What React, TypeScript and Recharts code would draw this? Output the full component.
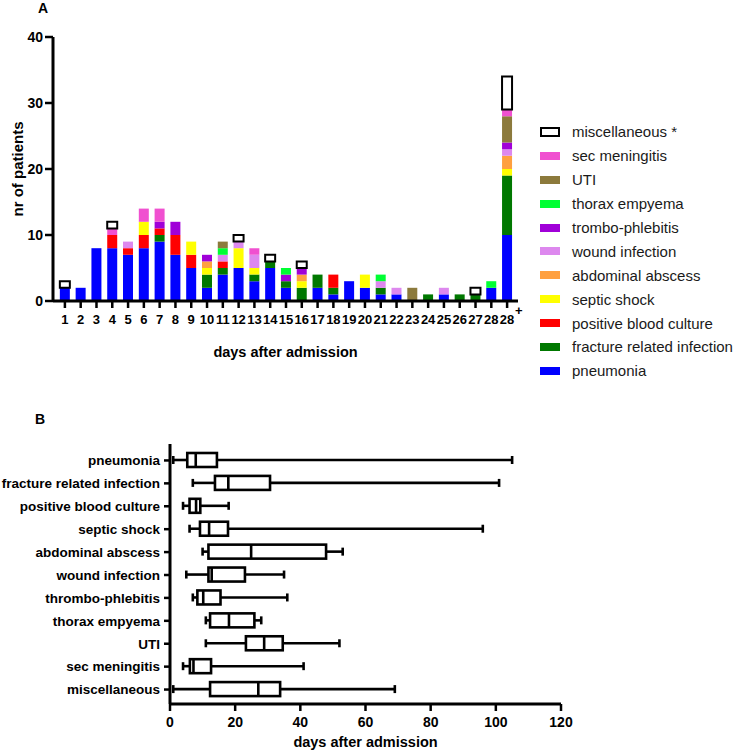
import React from "react";
import { BarChart, Bar, XAxis, YAxis, ComposedChart, Label } from "recharts";

const FONT = "Arial, 'Liberation Sans', Helvetica, sans-serif";

// ---- panel A: infections per day after admission ----
const days = [
  "1", "2", "3", "4", "5", "6", "7", "8", "9", "10", "11", "12", "13", "14", "15",
  "16", "17", "18", "19", "20", "21", "22", "23", "24", "25", "26", "27", "28", "28+",
];

const pneumonia = [2, 2, 8, 8, 7, 8, 9, 7, 5, 2, 4, 5, 3, 5, 2, 0, 2, 1, 3, 2, 1, 1, 0, 0, 1, 0, 0, 2, 10];
const fractureRelated = [0, 0, 0, 0, 0, 0, 1, 0, 0, 2, 1, 0, 1, 1, 1, 2, 2, 1, 0, 0, 1, 0, 0, 1, 0, 1, 1, 0, 9];
const bloodCulture = [0, 0, 0, 2, 1, 2, 1, 3, 2, 0, 1, 0, 0, 0, 0, 0, 0, 2, 0, 0, 0, 0, 0, 0, 0, 0, 0, 0, 0];
const septicShock = [0, 0, 0, 0, 0, 2, 0, 0, 2, 1, 0, 3, 1, 0, 0, 1, 0, 0, 0, 2, 0, 0, 0, 0, 0, 0, 0, 0, 1];
const abdominalAbscess = [0, 0, 0, 0, 0, 0, 0, 0, 0, 1, 0, 0, 0, 0, 0, 1, 0, 0, 0, 0, 0, 0, 0, 0, 0, 0, 0, 0, 2];
const woundInfection = [0, 0, 0, 0, 1, 0, 0, 0, 0, 0, 1, 1, 2, 0, 0, 0, 0, 0, 0, 0, 1, 1, 0, 0, 1, 0, 0, 0, 1];
const tromboPhlebitis = [0, 0, 0, 0, 0, 0, 1, 2, 0, 1, 0, 0, 0, 0, 1, 1, 0, 0, 0, 0, 0, 0, 0, 0, 0, 0, 0, 0, 1];
const thoraxEmpyema = [0, 0, 0, 0, 0, 0, 0, 0, 0, 0, 1, 0, 0, 0, 1, 0, 0, 0, 0, 0, 1, 0, 0, 0, 0, 0, 0, 1, 0];
const uti = [0, 0, 0, 0, 0, 0, 0, 0, 0, 0, 1, 0, 0, 0, 0, 0, 0, 0, 0, 0, 0, 0, 2, 0, 0, 0, 0, 0, 4];
const secMeningitis = [0, 0, 0, 1, 0, 2, 2, 0, 0, 0, 0, 0, 1, 0, 0, 0, 0, 0, 0, 0, 0, 0, 0, 0, 0, 0, 0, 0, 1];
const miscellaneous = [1, 0, 0, 1, 0, 0, 0, 0, 0, 0, 0, 1, 0, 1, 0, 1, 0, 0, 0, 0, 0, 0, 0, 0, 0, 0, 1, 0, 5];

const yTicksA = [0, 10, 20, 30, 40];

// stacking order, bottom to top
const series = [
  { key: "pneumonia", name: "pneumonia", color: "#0000ff", values: pneumonia },
  { key: "fracture", name: "fracture related infection", color: "#007800", values: fractureRelated },
  { key: "blood", name: "positive blood culture", color: "#ff0000", values: bloodCulture },
  { key: "septic", name: "septic shock", color: "#ffff00", values: septicShock },
  { key: "abdominal", name: "abdominal abscess", color: "#ffa040", values: abdominalAbscess },
  { key: "wound", name: "wound infection", color: "#dd88ee", values: woundInfection },
  { key: "trombo", name: "trombo-phlebitis", color: "#a000d8", values: tromboPhlebitis },
  { key: "thorax", name: "thorax empyema", color: "#00ff33", values: thoraxEmpyema },
  { key: "uti", name: "UTI", color: "#8c7a3c", values: uti },
  { key: "meningitis", name: "sec meningitis", color: "#f050d0", values: secMeningitis },
  { key: "misc", name: "miscellaneous *", color: "#ffffff", values: miscellaneous },
];

const barData = days.map((day, i) => {
  const row: Record<string, any> = { day };
  series.forEach((s) => (row[s.key] = s.values[i]));
  return row;
});

// ---- panel B: box plots of onset day ----
const boxLabels = [
  "pneumonia", "fracture related infection", "positive blood culture", "septic shock",
  "abdominal abscess", "wound infection", "thrombo-phlebitis", "thorax empyema",
  "UTI", "sec meningitis", "miscellaneous",
];
const boxMin = [1, 7, 4, 6, 10, 5, 7, 11, 11, 4, 1];
const boxQ1 = [5.3, 13.8, 6, 9.2, 11.8, 11.8, 8.4, 12.3, 23.3, 6.1, 12.3];
const boxMedian = [7.9, 17.9, 8, 12, 24.9, 12.8, 10.2, 18.1, 28.9, 7.2, 27.1];
const boxQ3 = [14.4, 30.7, 9.3, 17.8, 47.9, 23, 15.5, 25.9, 34.6, 12.6, 33.8];
const boxMax = [105, 101, 18, 96, 53, 35, 36, 28, 52, 41, 69];
const xTicksB = [0, 20, 40, 60, 80, 100, 120];

const boxData = boxLabels.map((name, i) => ({
  name,
  min: boxMin[i],
  q1: boxQ1[i],
  median: boxMedian[i],
  q3: boxQ3[i],
  max: boxMax[i],
  range: [boxMin[i], boxMax[i]],
}));

const tickFont = { fontFamily: FONT, fontWeight: 700, fill: "#000" };

function DayTick(props: any) {
  const { x, y, payload } = props;
  const v: string = payload.value;
  if (v.endsWith("+")) {
    return (
      <g>
        <text x={x} y={y} dy={14} textAnchor="middle" fontSize={13} {...tickFont}>
          {v.slice(0, -1)}
        </text>
        <text x={x + 8} y={y} dy={5} textAnchor="start" fontSize={13} {...tickFont}>
          +
        </text>
      </g>
    );
  }
  return (
    <text x={x} y={y} dy={14} textAnchor="middle" fontSize={13} {...tickFont}>
      {v}
    </text>
  );
}

function BoxShape(props: any) {
  const { x, y, width, height, payload } = props;
  if (!payload) return null;
  const span = payload.max - payload.min;
  const px = (v: number) => x + ((v - payload.min) / span) * width;
  const cy = y + height / 2;
  const sw = 2.6;
  return (
    <g stroke="#000" strokeWidth={sw} fill="none">
      <line x1={px(payload.min)} x2={px(payload.q1)} y1={cy} y2={cy} />
      <line x1={px(payload.q3)} x2={px(payload.max)} y1={cy} y2={cy} />
      <line x1={px(payload.min)} x2={px(payload.min)} y1={cy - 4} y2={cy + 4} />
      <line x1={px(payload.max)} x2={px(payload.max)} y1={cy - 4} y2={cy + 4} />
      <rect x={px(payload.q1)} y={y} width={px(payload.q3) - px(payload.q1)} height={height} fill="#fff" />
      <line x1={px(payload.median)} x2={px(payload.median)} y1={y} y2={y + height} />
    </g>
  );
}

export default function App() {
  const legendItems = [...series].reverse();
  return (
    <div style={{ position: "relative", width: 735, height: 753, background: "#fff", fontFamily: FONT }}>
      <style>{`body{margin:0}`}</style>

      <div style={{ position: "absolute", left: 38, top: 0, fontSize: 14, fontWeight: 700 }}>A</div>
      <div style={{ position: "absolute", left: 35, top: 411, fontSize: 14, fontWeight: 700 }}>B</div>

      <div style={{ position: "absolute", left: 0, top: 0 }}>
        <BarChart
          width={735}
          height={370}
          data={barData}
          margin={{ top: 37, right: 217, bottom: 19, left: 0 }}
          barCategoryGap="18%"
        >
          <XAxis
            dataKey="day"
            interval={0}
            height={50}
            padding={{ left: 4, right: 3 }}
            axisLine={{ stroke: "#000", strokeWidth: 3 }}
            tickLine={{ stroke: "#000", strokeWidth: 2.5 }}
            tickSize={7}
            tick={<DayTick />}
          >
            <Label
              content={(p: any) => {
                const vb = p.viewBox;
                return (
                  <text x={vb.x + vb.width / 2} y={vb.y + 56} textAnchor="middle" fontSize={14.5} {...tickFont}>
                    days after admission
                  </text>
                );
              }}
            />
          </XAxis>
          <YAxis
            width={53}
            domain={[0, 40]}
            ticks={yTicksA}
            interval={0}
            axisLine={{ stroke: "#000", strokeWidth: 3 }}
            tickLine={{ stroke: "#000", strokeWidth: 2.5 }}
            tickSize={8}
            tickMargin={2}
            tick={{ fontSize: 14, ...tickFont }}
          >
            <Label
              content={(p: any) => {
                const vb = p.viewBox;
                const cy = vb.y + vb.height / 2;
                return (
                  <text
                    x={17}
                    y={cy}
                    transform={`rotate(-90 17 ${cy})`}
                    textAnchor="middle"
                    dominantBaseline="central"
                    fontSize={15}
                    {...tickFont}
                  >
                    nr of patients
                  </text>
                );
              }}
            />
          </YAxis>
          {series.map((s) => (
            <Bar
              key={s.key}
              dataKey={s.key}
              name={s.name}
              stackId="a"
              fill={s.color}
              stroke={s.key === "misc" ? "#000" : "none"}
              strokeWidth={s.key === "misc" ? 2 : 0}
              isAnimationActive={false}
            />
          ))}
        </BarChart>
      </div>

      <div style={{ position: "absolute", left: 540, top: 120 }}>
        {legendItems.map((s) => (
          <div key={s.key} style={{ display: "flex", alignItems: "center", height: 23.9 }}>
            <span
              style={{
                display: "inline-block",
                boxSizing: "border-box",
                width: 20,
                height: s.key === "misc" ? 10 : 8,
                background: s.color,
                border: s.key === "misc" ? "2.5px solid #000" : "none",
              }}
            />
            <span style={{ marginLeft: 12, fontSize: 15, color: "#1a1a1a", whiteSpace: "nowrap" }}>{s.name}</span>
          </div>
        ))}
      </div>

      <div style={{ position: "absolute", left: 0, top: 370 }}>
        <ComposedChart
          layout="vertical"
          width={735}
          height={383}
          data={boxData}
          margin={{ top: 74, right: 174, bottom: 4, left: 0 }}
        >
          <XAxis
            type="number"
            domain={[0, 120]}
            ticks={xTicksB}
            interval={0}
            height={45}
            axisLine={{ stroke: "#000", strokeWidth: 3 }}
            tickLine={{ stroke: "#000", strokeWidth: 2.5 }}
            tickSize={7}
            tickMargin={6}
            tick={{ fontSize: 14, ...tickFont }}
          >
            <Label
              content={(p: any) => {
                const vb = p.viewBox;
                return (
                  <text x={vb.x + vb.width / 2} y={vb.y + 43} textAnchor="middle" fontSize={14.5} {...tickFont}>
                    days after admission
                  </text>
                );
              }}
            />
          </XAxis>
          <YAxis
            type="category"
            dataKey="name"
            width={170}
            interval={0}
            padding={{ top: 5, bottom: 3 }}
            axisLine={{ stroke: "#000", strokeWidth: 3 }}
            tickLine={{ stroke: "#000", strokeWidth: 2.5 }}
            tickSize={6}
            tickMargin={4}
            tick={{ fontSize: 13.5, ...tickFont }}
          />
          <Bar dataKey="range" barSize={14} shape={BoxShape} isAnimationActive={false} />
        </ComposedChart>
      </div>
    </div>
  );
}
